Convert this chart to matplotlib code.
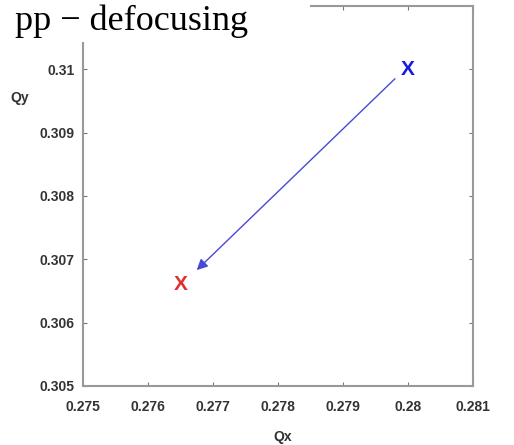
import matplotlib
matplotlib.use('Agg')
import matplotlib.pyplot as plt
from matplotlib.patches import Rectangle
from matplotlib import font_manager

# tune points (Qx, Qy)
start_q = (0.2800, 0.3100)
end_q = (0.2765, 0.3066)

# arrow runs from just off the start marker to just off the end marker
arrow_from = (0.2798, 0.30985)
arrow_to = (0.27675, 0.30683)

x_ticks = [0.275, 0.276, 0.277, 0.278, 0.279, 0.28, 0.281]
x_labels = ['0.275', '0.276', '0.277', '0.278', '0.279', '0.28', '0.281']
y_ticks = [0.305, 0.306, 0.307, 0.308, 0.309, 0.31]
y_labels = ['0.305', '0.306', '0.307', '0.308', '0.309', '0.31']

names = {f.name for f in font_manager.fontManager.ttflist}
lab_font = 'Liberation Sans Narrow' if 'Liberation Sans Narrow' in names else 'Liberation Sans'

fig = plt.figure(figsize=(5.14, 4.45), dpi=100)
ax = fig.add_axes([0.1615, 0.1326, 0.7585, 0.854])

ax.set_xlim(0.275, 0.281)
ax.set_ylim(0.305, 0.311)

ax.annotate('', xy=arrow_to, xytext=arrow_from,
            arrowprops=dict(arrowstyle='-|>', color='#4848d8', lw=1.0,
                            mutation_scale=16, shrinkA=0, shrinkB=0))

ax.text(start_q[0], start_q[1], 'X', color='#1a1ae0', fontsize=15,
        fontweight='bold', family=lab_font, ha='center', va='center')
ax.text(end_q[0], end_q[1], 'X', color='#e03030', fontsize=15,
        fontweight='bold', family=lab_font, ha='center', va='center')

ax.set_xticks(x_ticks)
ax.set_xticklabels(x_labels)
ax.set_yticks(y_ticks)
ax.set_yticklabels(y_labels)
ax.tick_params(direction='in', length=3, width=0.8, color='#777777',
               labelsize=10, labelcolor='#333333', top=True, right=True)
ax.tick_params(axis='x', pad=10)
ax.tick_params(axis='y', pad=6)
for lab in ax.get_xticklabels() + ax.get_yticklabels():
    lab.set_family(lab_font)
    lab.set_fontweight('bold')

for sp in ax.spines.values():
    sp.set_color('#999999')
    sp.set_linewidth(1.5)

fig.text(283 / 514, 1 - 437 / 445, 'Qx', fontsize=10, fontweight='bold',
         family=lab_font, color='#333333', ha='center', va='center')
fig.text(20 / 514, 1 - 98 / 445, 'Qy', fontsize=10, fontweight='bold',
         family=lab_font, color='#333333', ha='center', va='center')

# white patch over the top-left corner, then the title on it
fig.patches.append(Rectangle((0, 1 - 42 / 445), 310 / 514, 42 / 445,
                             transform=fig.transFigure, facecolor='white',
                             edgecolor='none', zorder=5))
fig.text(15 / 514, 1 - 21 / 445, 'pp \u2212 defocusing', fontsize=26,
         family='Liberation Serif', color='black', ha='left', va='center',
         zorder=6)

fig.savefig('out.png', dpi=100)
